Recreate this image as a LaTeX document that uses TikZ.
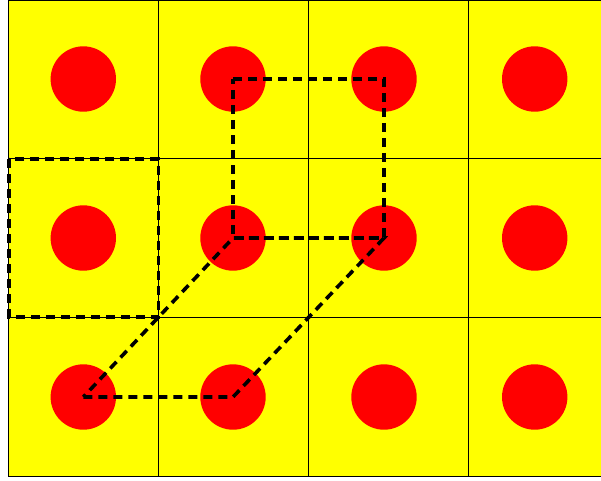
\documentclass[tikz,border=0pt]{standalone}
\usepackage{tikz}
\definecolor{cellyellow}{RGB}{255,255,0}
\definecolor{dotred}{RGB}{255,0,0}

\begin{document}
\begin{tikzpicture}
  [x=1pt,y=-1pt,every node/.style={circle,fill=dotred,minimum size=65.4pt,inner sep=0pt},
   gridline/.style={line width=1pt},
   cellpath/.style={line width=3.6pt,dash pattern=on 9pt off 6pt}]
  \useasboundingbox (0,0) rectangle (601,480);
  \fill[cellyellow] (8,0) rectangle (601,476);
  \foreach \x in {8.5,158.5,308.5,468.5}
    \draw[gridline] (\x,0) -- (\x,476);
  \foreach \y in {0.5,158.5,317.5,476}
    \draw[gridline] (8,\y) -- (601,\y);
  \foreach \x/\i in {83.3/1,233/2,384/3,534.7/4}
    \foreach \y/\j in {79/1,238/2,397/3}
      \node (p\j\i) at (\x,\y) {};
  \coordinate (s1) at (9,159);
  \coordinate (s2) at (158.5,317);
  \draw[cellpath] (s1) rectangle (s2);
  \draw[cellpath] (p12.center) -- (p13.center) -- (p23.center) -- (p22.center) -- cycle;
  \draw[cellpath] (p31.center) -- (p32.center) -- (p23.center) -- (p22.center) -- cycle;
\end{tikzpicture}
\end{document}
